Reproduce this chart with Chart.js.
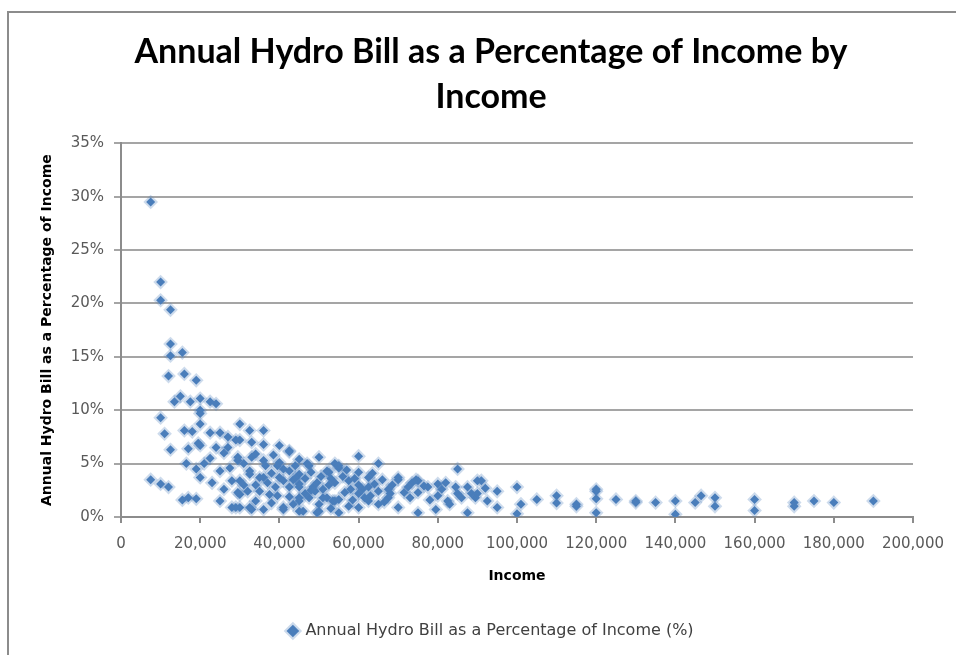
<!DOCTYPE html>
<html lang="en">
<head>
  <meta charset="UTF-8">
  <title>Annual Hydro Bill as a Percentage of Income by Income</title>
  <script src="https://cdn.jsdelivr.net/npm/chart.js"></script>
  <style>
    body { margin: 0; background: #fff; }
    .wrap { position: relative; width: 956px; height: 655px; overflow: hidden; }
    .frame { position: absolute; left: 7px; top: 11px; width: 1000px; height: 700px;
             border-left: 2px solid #8c8c8c; border-top: 2px solid #8c8c8c; }
    #grafico { position: absolute; left: 0; top: 0; }
  </style>
</head>
<body>
<div class="wrap">
  <div class="frame"></div>
  <canvas id="grafico" width="956" height="655"></canvas>
</div>
<script>
// income ($) and hydro bill as % of income
const rendas = [
  7500, 10000, 10000, 12500, 12500, 12500, 15500, 12000, 16000, 19000,
  15000, 13500, 17500, 20000, 22500, 24000, 20000, 20000, 10000, 11000,
  12500, 7500, 10000, 12000, 15500, 17000, 19000, 25000, 20000, 16000,
  18000, 22500, 25000, 27000, 30000, 32500, 36000, 17000, 19500, 20000,
  24000, 27000, 30000, 29000, 33000, 36000, 40000, 42500, 45000, 50000,
  16500, 19000, 21000, 25000, 29500, 32500, 36000, 39500, 42500, 40000,
  20000, 23000, 28000, 35000, 45000, 32000, 35000, 30000, 28000, 30000,
  33000, 36000, 41000, 37500, 39000, 42500, 42500, 46000, 50000, 52000,
  54000, 45000, 48500, 47500, 52000, 47000, 29500, 33000, 36500, 40000,
  47500, 52500, 32500, 36000, 30000, 29500, 39500, 45000, 50000, 29000,
  32500, 41000, 45000, 49500, 53500, 60000, 55000, 65000, 60000, 62500,
  66000, 70000, 75000, 85000, 82000, 80000, 90000, 87500, 84500, 72500,
  54000, 56500, 54000, 65000, 73000, 75000, 79500, 55000, 70000, 75000,
  87500, 89500, 41000, 45000, 49500, 51000, 55000, 65000, 45000, 60000,
  70000, 74500, 55000, 42500, 60000, 60000, 62500, 67500, 57500, 52500,
  57500, 62500, 67500, 77500, 80000, 82500, 85000, 90000, 92500, 91000,
  95000, 95000, 100000, 101000, 100000, 105000, 110000, 110000, 115000, 120000,
  120000, 120000, 125000, 130000, 130000, 135000, 140000, 140000, 145000, 146500,
  150000, 150000, 160000, 160000, 170000, 170000, 175000, 180000, 190000, 120000,
  115000, 22500, 26000, 34000, 38000, 44000, 48000, 58000, 63000, 68000,
  26000, 27500, 31000, 31000, 34000, 34000, 37000, 38000, 38500, 41000,
  43500, 43500, 44000, 46500, 46500, 48000, 49000, 50500, 51000, 53000,
  53000, 56000, 57000, 58500, 59000, 61000, 61500, 63500, 64000, 66500,
  68500, 71500, 73500, 76500, 78000, 81000, 83000, 86000, 88500, 92000
];
const percentuais = [
  29.5, 22.0, 20.3, 19.4, 16.2, 15.1, 15.4, 13.2, 13.4, 12.8,
  11.3, 10.8, 10.8, 11.1, 10.8, 10.6, 10.0, 9.7, 9.3, 7.8,
  6.3, 3.5, 3.1, 2.8, 1.6, 1.8, 1.7, 1.5, 8.7, 8.1,
  8.0, 7.9, 7.9, 7.5, 8.7, 8.1, 8.1, 6.4, 6.9, 6.7,
  6.5, 6.5, 7.2, 7.2, 7.0, 6.8, 6.7, 6.2, 5.4, 5.6,
  5.0, 4.5, 5.0, 4.3, 5.3, 4.3, 5.3, 4.8, 4.3, 3.7,
  3.7, 3.2, 3.4, 3.7, 4.0, 2.4, 2.4, 2.1, 0.9, 0.9,
  0.7, 0.7, 0.7, 2.1, 2.8, 2.8, 1.9, 0.55, 0.55, 4.3,
  5.0, 2.8, 2.8, 1.8, 1.8, 5.0, 5.6, 5.6, 4.8, 5.1,
  4.8, 4.2, 4.0, 3.7, 3.4, 2.3, 2.0, 1.8, 1.2, 0.9,
  0.9, 0.9, 0.55, 0.4, 1.5, 5.7, 4.6, 5.0, 4.2, 3.7,
  3.5, 3.5, 3.4, 4.5, 3.2, 3.1, 3.4, 2.8, 2.8, 2.8,
  3.2, 2.3, 1.5, 1.2, 1.8, 2.3, 0.7, 0.4, 0.9, 0.4,
  0.4, 1.8, 3.4, 3.1, 3.2, 1.8, 1.65, 2.4, 1.5, 0.9,
  3.7, 3.5, 4.8, 6.1, 3.0, 2.2, 2.8, 2.6, 3.4, 3.0,
  1.0, 1.5, 1.8, 2.8, 2.0, 1.5, 2.2, 2.2, 1.5, 3.4,
  2.4, 0.9, 2.8, 1.2, 0.3, 1.65, 2.0, 1.3, 1.2, 2.4,
  1.7, 0.4, 1.65, 1.5, 1.35, 1.35, 1.5, 0.25, 1.35, 2.0,
  1.8, 1.0, 1.65, 0.6, 1.35, 1.0, 1.5, 1.35, 1.5, 2.6,
  1.0, 5.5, 6.0, 5.9, 4.1, 3.6, 2.5, 2.6, 2.0, 2.2,
  2.6, 4.6, 3.0, 5.0, 3.0, 1.5, 3.2, 1.3, 5.8, 4.5,
  3.5, 1.2, 4.8, 3.6, 2.2, 4.2, 2.4, 3.8, 2.6, 3.6,
  0.8, 3.8, 4.4, 1.6, 3.6, 2.6, 1.8, 4.1, 3.1, 1.4,
  3.0, 2.3, 3.2, 2.9, 1.6, 2.6, 1.2, 1.8, 2.2, 2.7
];
const ticksX = [0, 20000, 40000, 60000, 80000, 100000, 120000, 140000, 160000, 180000, 200000];
const ticksY = [0, 5, 10, 15, 20, 25, 30, 35];

const pontos = rendas.map((r, i) => ({ x: r, y: percentuais[i] }));
const corAzul = '#4a7ebb';
const fonteTitulo = 'Lato, "Open Sans", sans-serif';
const fonte = '"DejaVu Sans", sans-serif';

new Chart(document.getElementById('grafico').getContext('2d'), {
  type: 'scatter',
  data: {
    datasets: [{
      label: 'Annual Hydro Bill as a Percentage of Income (%)',
      data: pontos,
      pointStyle: 'rectRot',
      pointRadius: 4.5,
      backgroundColor: corAzul,
      borderColor: 'rgba(74, 126, 187, 0.28)',
      borderWidth: 4
    }]
  },
  options: {
    responsive: false,
    animation: false,
    layout: { padding: { left: 26, right: 0, top: 0, bottom: 6 } },
    plugins: {
      title: {
        display: true,
        text: ['Annual Hydro Bill as a Percentage of Income by', 'Income'],
        color: '#000',
        font: { family: fonteTitulo, size: 34, weight: 'bold', lineHeight: 1.32 },
        padding: { top: 29.5, bottom: 24 }
      },
      legend: {
        position: 'bottom',
        labels: {
          usePointStyle: true,
          pointStyle: 'rectRot',
          boxWidth: 9,
          boxHeight: 9,
          color: '#404040',
          font: { family: fonte, size: 16 },
          padding: 9
        }
      },
      tooltip: { enabled: false }
    },
    scales: {
      x: {
        type: 'linear',
        min: ticksX[0],
        max: ticksX[ticksX.length - 1],
        afterBuildTicks: (eixo) => { eixo.ticks = ticksX.map(v => ({ value: v })); },
        afterFit: (eixo) => { eixo.height = 97; },
        ticks: {
          color: '#595959',
          font: { family: fonte, size: 15 },
          padding: 12,
          maxRotation: 0,
          callback: (v) => v.toLocaleString('en-US')
        },
        grid: { drawOnChartArea: false, drawTicks: true, tickLength: 6, color: '#8c8c8c', lineWidth: 2 },
        border: { color: '#8c8c8c', width: 2 },
        title: {
          display: true,
          text: 'Income',
          color: '#000',
          font: { family: fonte, size: 14, weight: 'bold' },
          padding: { top: 0, bottom: 29 }
        }
      },
      y: {
        type: 'linear',
        min: ticksY[0],
        max: ticksY[ticksY.length - 1],
        afterBuildTicks: (eixo) => { eixo.ticks = ticksY.map(v => ({ value: v })); },
        afterFit: (eixo) => { eixo.width = 95; },
        ticks: {
          color: '#595959',
          font: { family: fonte, size: 15 },
          padding: 10,
          callback: (v) => v + '%'
        },
        grid: { color: '#a5a5a5', lineWidth: 2, tickLength: 7 },
        border: { color: '#8c8c8c', width: 2 },
        title: {
          display: true,
          text: 'Annual Hydro Bill as a Percentage of Income',
          color: '#000',
          font: { family: fonte, size: 14, weight: 'bold' },
          padding: { top: 13, bottom: 0 }
        }
      },
      // empty right-hand axis, only reserves the space right of the plot
      margemDireita: {
        type: 'linear',
        position: 'right',
        afterFit: (eixo) => { eixo.width = 40; },
        ticks: { display: false },
        grid: { drawOnChartArea: false, drawTicks: false },
        border: { display: false }
      }
    }
  }
});
</script>
</body>
</html>
